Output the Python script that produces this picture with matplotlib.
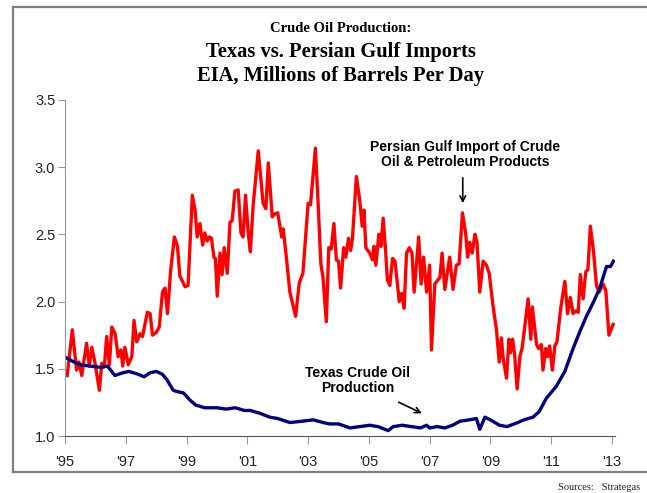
import matplotlib
matplotlib.use("Agg")
import matplotlib.pyplot as plt
from matplotlib.lines import Line2D

# Persian Gulf imports of crude oil & petroleum products (mb/d)
gulf_years = [
    1995.07, 1995.24, 1995.38, 1995.46, 1995.55, 1995.71, 1995.80, 1995.88, 1995.99,
    1996.13, 1996.21, 1996.30, 1996.37, 1996.46, 1996.54, 1996.65, 1996.75, 1996.84,
    1996.90, 1996.97, 1997.08, 1997.20, 1997.27, 1997.36, 1997.47, 1997.55, 1997.71,
    1997.80, 1997.88, 1998.00, 1998.10, 1998.21, 1998.29, 1998.37, 1998.48, 1998.60,
    1998.70, 1998.78, 1998.95, 1999.05, 1999.19, 1999.28, 1999.35, 1999.44, 1999.53,
    1999.60, 1999.68, 1999.75, 1999.82, 1999.90, 1999.95, 2000.01, 2000.10, 2000.17,
    2000.24, 2000.34, 2000.43, 2000.50, 2000.59, 2000.70, 2000.79, 2000.86, 2000.94,
    2001.03, 2001.10, 2001.19, 2001.36, 2001.52, 2001.61, 2001.69, 2001.82, 2001.90,
    2002.00, 2002.13, 2002.18, 2002.27, 2002.40, 2002.59, 2002.71, 2002.83, 2003.00,
    2003.08, 2003.24, 2003.33, 2003.42, 2003.49, 2003.60, 2003.68, 2003.76, 2003.85,
    2003.93, 2004.00, 2004.07, 2004.17, 2004.24, 2004.33, 2004.40, 2004.46, 2004.59,
    2004.70, 2004.78, 2004.84, 2004.90, 2005.03, 2005.12, 2005.17, 2005.23, 2005.33,
    2005.40, 2005.47, 2005.55, 2005.61, 2005.69, 2005.78, 2005.86, 2006.00, 2006.08,
    2006.16, 2006.24, 2006.33, 2006.42, 2006.49, 2006.64, 2006.72, 2006.80, 2006.90,
    2007.00, 2007.06, 2007.17, 2007.34, 2007.41, 2007.50, 2007.58, 2007.66, 2007.77,
    2007.88, 2007.97, 2008.08, 2008.19, 2008.25, 2008.32, 2008.40, 2008.49, 2008.56,
    2008.65, 2008.76, 2008.87, 2008.96, 2009.09, 2009.20, 2009.29, 2009.36, 2009.42,
    2009.53, 2009.61, 2009.66, 2009.73, 2009.80, 2009.88, 2009.97, 2010.04, 2010.13,
    2010.24, 2010.33, 2010.38, 2010.52, 2010.59, 2010.68, 2010.73, 2010.82, 2010.88,
    2010.95, 2011.04, 2011.12, 2011.19, 2011.32, 2011.45, 2011.54, 2011.63, 2011.72,
    2011.81, 2011.89, 2011.96, 2012.05, 2012.14, 2012.21, 2012.29, 2012.40, 2012.49,
    2012.58, 2012.71, 2012.80, 2012.90, 2013.04,
]
gulf_values = [
    1.45, 1.79, 1.49, 1.55, 1.45, 1.69, 1.52, 1.66, 1.54,
    1.34, 1.54, 1.53, 1.74, 1.53, 1.81, 1.76, 1.59, 1.64,
    1.52, 1.66, 1.53, 1.59, 1.86, 1.70, 1.76, 1.74, 1.92,
    1.91, 1.75, 1.77, 1.81, 2.07, 2.10, 1.91, 2.24, 2.48,
    2.41, 2.19, 2.11, 2.12, 2.79, 2.68, 2.48, 2.58, 2.42,
    2.51, 2.45, 2.48, 2.47, 2.33, 2.32, 2.04, 2.36, 2.20,
    2.40, 2.21, 2.59, 2.60, 2.82, 2.83, 2.51, 2.48, 2.79,
    2.51, 2.37, 2.71, 3.12, 2.73, 2.69, 3.03, 2.63, 2.65,
    2.66, 2.48, 2.54, 2.36, 2.07, 1.89, 2.14, 2.21, 2.73,
    2.72, 3.14, 2.73, 2.28, 2.18, 1.85, 2.40, 2.39, 2.58,
    2.31, 2.30, 2.10, 2.40, 2.33, 2.47, 2.38, 2.47, 2.93,
    2.75, 2.56, 2.68, 2.40, 2.36, 2.31, 2.41, 2.27, 2.50,
    2.41, 2.62, 2.38, 2.16, 2.12, 2.32, 2.30, 2.00, 2.06,
    1.95, 2.36, 2.40, 2.36, 2.07, 2.48, 2.13, 2.33, 2.07,
    2.27, 1.64, 2.13, 2.18, 2.36, 2.09, 2.21, 2.33, 2.09,
    2.27, 2.28, 2.66, 2.50, 2.33, 2.44, 2.36, 2.50, 2.44,
    2.07, 2.30, 2.27, 2.21, 1.96, 1.79, 1.55, 1.73, 1.58,
    1.43, 1.72, 1.62, 1.72, 1.60, 1.35, 1.59, 1.65, 1.81,
    2.02, 1.72, 1.96, 1.68, 1.65, 1.68, 1.49, 1.65, 1.59,
    1.67, 1.49, 1.67, 1.70, 1.96, 2.15, 1.91, 2.03, 1.91,
    1.93, 1.92, 2.20, 2.02, 2.22, 2.24, 2.56, 2.36, 2.12,
    2.07, 2.13, 2.08, 1.75, 1.83,
]

# Texas crude oil production (mb/d)
texas_years = [
    1995.05, 1995.30, 1995.50, 1995.82, 1996.20, 1996.40, 1996.64, 1996.90, 1997.10,
    1997.40, 1997.60, 1997.80, 1998.00, 1998.20, 1998.35, 1998.56, 1998.70, 1998.90,
    1999.10, 1999.30, 1999.60, 2000.00, 2000.30, 2000.60, 2000.90, 2001.09, 2001.40,
    2001.74, 2002.00, 2002.40, 2002.80, 2003.17, 2003.50, 2003.70, 2004.00, 2004.38,
    2004.70, 2005.03, 2005.30, 2005.64, 2005.80, 2006.10, 2006.40, 2006.70, 2006.90,
    2007.00, 2007.25, 2007.50, 2007.75, 2008.00, 2008.30, 2008.54, 2008.65, 2008.82,
    2009.00, 2009.30, 2009.55, 2009.90, 2010.10, 2010.40, 2010.60, 2010.84, 2011.17,
    2011.45, 2011.72, 2011.95, 2012.16, 2012.40, 2012.60, 2012.82, 2012.95, 2013.05,
]
texas_values = [
    1.58, 1.55, 1.53, 1.52, 1.51, 1.52, 1.45, 1.47, 1.48,
    1.46, 1.44, 1.47, 1.48, 1.46, 1.42, 1.34, 1.33, 1.32,
    1.27, 1.23, 1.21, 1.21, 1.20, 1.21, 1.19, 1.19, 1.17,
    1.14, 1.13, 1.10, 1.11, 1.12, 1.10, 1.09, 1.09, 1.06,
    1.07, 1.08, 1.07, 1.04, 1.07, 1.08, 1.07, 1.06, 1.08,
    1.06, 1.07, 1.06, 1.08, 1.11, 1.12, 1.13, 1.05, 1.14,
    1.12, 1.08, 1.07, 1.10, 1.12, 1.14, 1.18, 1.28, 1.37,
    1.48, 1.65, 1.78, 1.89, 2.00, 2.10, 2.26, 2.26, 2.30,
]

tick_years = list(range(1995, 2014, 2))
tick_labels = ["'95", "'97", "'99", "'01", "'03", "'05", "'07", "'09", "'11", "'13"]
y_ticks = [1.0, 1.5, 2.0, 2.5, 3.0, 3.5]

plt.rcParams["font.family"] = ["Liberation Sans", "DejaVu Sans"]

fig = plt.figure(figsize=(6.47, 4.93), dpi=100)
ax = fig.add_axes([0.1005, 0.1156, 0.85, 0.682])

ax.plot(gulf_years, gulf_values, color="#ff0000", lw=2.4, solid_joinstyle="round")
ax.plot(texas_years, texas_values, color="#000080", lw=2.4, solid_joinstyle="round")

ax.set_xlim(1995, 2013.1)
ax.set_ylim(1.0, 3.5)
ax.set_xticks(tick_years)
ax.set_xticklabels(tick_labels)
ax.set_yticks(y_ticks)
ax.set_yticklabels([f"{v:.1f}" for v in y_ticks])

for side in ("top", "right"):
    ax.spines[side].set_visible(False)
ax.spines["left"].set_color("#999999")
ax.spines["bottom"].set_color("#555555")
ax.tick_params(axis="y", direction="out", length=5, color="#999999",
               labelsize=10.5, labelcolor="#222222", pad=2)
ax.tick_params(axis="x", direction="out", length=6, color="#999999",
               labelsize=10.5, labelcolor="#222222", pad=8)

ax.text(2008.16, 3.09, "Persian Gulf Import of Crude\nOil & Petroleum Products",
        ha="center", va="center", fontsize=10, fontweight="bold", linespacing=1.1)
ax.annotate("", xy=(2008.09, 2.71), xytext=(2008.09, 2.94),
            arrowprops=dict(arrowstyle="->", color="black", lw=1.2))
ax.text(2004.62, 1.41, "Texas Crude Oil\nProduction",
        ha="center", va="center", fontsize=10, fontweight="bold", linespacing=1.1)
ax.annotate("", xy=(2006.83, 1.16), xytext=(2005.9, 1.26),
            arrowprops=dict(arrowstyle="->", color="black", lw=1.2))

# titles
serif = ["Liberation Serif", "DejaVu Serif"]
fig.text(0.527, 1 - 29 / 493, "Crude Oil Production:", ha="center", va="center",
         fontsize=10.5, fontweight="bold", family=serif)
fig.text(0.527, 1 - 52 / 493, "Texas vs. Persian Gulf Imports", ha="center",
         va="center", fontsize=14.8, fontweight="bold", family=serif)
fig.text(0.527, 1 - 76 / 493, "EIA, Millions of Barrels Per Day", ha="center",
         va="center", fontsize=14.8, fontweight="bold", family=serif)
fig.text(640 / 647, 1 - 488 / 493, "Sources:   Strategas", ha="right", va="center",
         fontsize=7.5, family=serif, color="#222222")

# outer frame
W, H = 647, 493
frame = dict(color="#7f7f7f", lw=1.6, transform=fig.transFigure, clip_on=False)
fig.add_artist(Line2D([13 / W, 1], [1 - 7 / H, 1 - 7 / H], **frame))
fig.add_artist(Line2D([13 / W, 13 / W], [1 - 7 / H, 1 - 472 / H], **frame))
fig.add_artist(Line2D([13 / W, 1], [1 - 472 / H, 1 - 472 / H], **frame))

fig.savefig("out.png", dpi=100)
